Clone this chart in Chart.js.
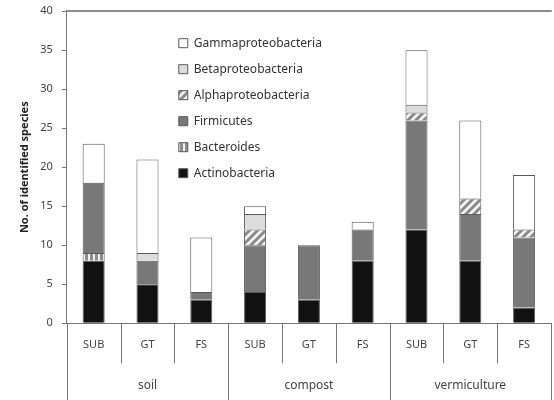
<!DOCTYPE html>
<html>
<head>
<meta charset="utf-8">
<script src="https://cdn.jsdelivr.net/npm/chart.js@4/dist/chart.umd.min.js"></script>
<style>
html,body{margin:0;padding:0;background:#fff;}
#wrap{width:554px;height:400px;position:relative;}
</style>
</head>
<body>
<div id="wrap"><canvas id="c" width="554" height="400"></canvas></div>
<script>
// ---- data ----
const subLabels = ['SUB','GT','FS','SUB','GT','FS','SUB','GT','FS'];
const groupLabels = ['soil','compost','vermiculture'];
const actinobacteria      = [8, 5, 3, 4, 3, 8, 12, 8, 2];
const bacteroides         = [1, 0, 0, 0, 0, 0, 0, 0, 0];
const firmicutes          = [9, 3, 1, 6, 7, 4, 14, 6, 9];
const alphaproteobacteria = [0, 0, 0, 2, 0, 0, 1, 2, 1];
const betaproteobacteria  = [0, 1, 0, 2, 0, 0, 1, 0, 0];
const gammaproteobacteria = [5, 12, 7, 1, 0, 1, 7, 10, 7];
const yTicks = [0, 5, 10, 15, 20, 25, 30, 35, 40];

// ---- patterns ----
function makePattern(w, h, draw) {
  const c = document.createElement('canvas');
  c.width = w; c.height = h;
  const g = c.getContext('2d');
  draw(g, w, h);
  return g.createPattern(c, 'repeat');
}
const vStripes = makePattern(5, 5, (g, w, h) => {
  g.fillStyle = '#8c8c8c'; g.fillRect(0, 0, w, h);
  g.fillStyle = '#f0f0f0'; g.fillRect(3, 0, 2, h);
});
const dStripes = makePattern(8, 8, (g, w, h) => {
  g.fillStyle = '#f4f4f4'; g.fillRect(0, 0, w, h);
  g.strokeStyle = '#8a8a8a'; g.lineWidth = 3;
  g.beginPath();
  g.moveTo(-1, h + 1); g.lineTo(w + 1, -1);
  g.moveTo(-w / 2 - 1, h / 2 + 1); g.lineTo(w / 2 + 1, -h / 2 - 1);
  g.moveTo(w / 2 - 1, h * 1.5 + 1); g.lineTo(w * 1.5 + 1, h / 2 - 1);
  g.stroke();
});

const border = '#5a5a5a';
function ds(label, data, bg) {
  // empty segments (0) are not drawn as bars
  return { label, data: data.map(v => (v === 0 ? null : v)), backgroundColor: bg,
           borderColor: border, borderWidth: 1,
           borderSkipped: 'start', categoryPercentage: 1, barPercentage: 0.41 };
}

const legendShift = {
  id: 'legendShift',
  afterLayout(chart) {
    const lg = chart.legend, a = chart.chartArea;
    if (!lg) return;
    const w = lg.width, h = lg.height;
    lg.left = a.left + 98; lg.top = a.top + 12;
    lg.right = lg.left + w; lg.bottom = lg.top + h;
  }
};

// category separator lines, positioned from the x scale
const separators = {
  id: 'separators',
  afterDraw(chart) {
    const x = chart.scales.x, a = chart.chartArea, ctx = chart.ctx;
    const per = subLabels.length / groupLabels.length;
    ctx.save();
    ctx.strokeStyle = '#777'; ctx.lineWidth = 1;
    for (let i = 0; i <= subLabels.length; i++) {
      const px = Math.round(x.getPixelForValue(i - 0.5)) + 0.5;
      const end = (i % per === 0) ? chart.height : a.bottom + 40;
      ctx.beginPath(); ctx.moveTo(px, a.bottom); ctx.lineTo(px, end); ctx.stroke();
    }
    ctx.restore();
  }
};

const txt = '#444';
const clear = 'rgba(0,0,0,0)';
new Chart(document.getElementById('c'), {
  type: 'bar',
  data: {
    labels: subLabels,
    datasets: [
      ds('Actinobacteria', actinobacteria, '#111111'),
      ds('Bacteroides', bacteroides, vStripes),
      ds('Firmicutes', firmicutes, '#787878'),
      ds('Alphaproteobacteria', alphaproteobacteria, dStripes),
      ds('Betaproteobacteria', betaproteobacteria, '#dcdcdc'),
      ds('Gammaproteobacteria', gammaproteobacteria, '#ffffff')
    ]
  },
  options: {
    responsive: false,
    animation: false,
    layout: { padding: { left: 18, right: 3, top: 0, bottom: 6 } },
    plugins: {
      tooltip: { enabled: false },
      legend: {
        position: 'chartArea',
        align: 'start',
        reverse: true,
        labels: {
          boxWidth: 9, boxHeight: 9, padding: 14,
          color: '#333',
          font: { family: 'Noto Sans', size: 12 }
        }
      }
    },
    scales: {
      x: {
        stacked: true,
        offset: true,
        grid: { offset: true, drawOnChartArea: false, tickLength: 15, color: clear, tickColor: clear },
        border: { display: true, color: '#777' },
        ticks: { padding: 0.5, color: txt, font: { family: 'Noto Sans', size: 11 }, maxRotation: 0, autoSkip: false }
      },
      x2: {
        type: 'category',
        labels: groupLabels,
        position: 'bottom',
        offset: true,
        grid: { offset: true, drawOnChartArea: false, tickLength: 24, color: clear, tickColor: clear },
        border: { display: false },
        ticks: { padding: 1.6, color: txt, font: { family: 'Noto Sans', size: 12 }, maxRotation: 0, autoSkip: false }
      },
      xTop: {
        type: 'category',
        labels: groupLabels,
        position: 'top',
        offset: true,
        grid: { display: true, drawOnChartArea: false, drawTicks: false, color: clear },
        border: { display: true, color: '#8c8c8c', width: 1.5 },
        ticks: { display: false }
      },
      y: {
        stacked: true,
        min: 0, max: 40,
        afterBuildTicks(scale) { scale.ticks = yTicks.map(v => ({ value: v })); },
        grid: {
          drawOnChartArea: true, tickLength: 5, tickColor: '#777',
          color: c => (c.index === yTicks.length - 1 ? '#8c8c8c' : clear)
        },
        border: { display: true, color: '#777' },
        ticks: { padding: 9, color: txt, font: { family: 'Noto Sans', size: 11, lineHeight: 0.4 } },
        title: {
          display: true, text: 'No. of identified species', color: '#222',
          font: { family: 'Noto Sans', size: 11, weight: 'bold' },
          padding: { top: 0, bottom: 0 }
        }
      }
    }
  },
  plugins: [legendShift, separators]
});
</script>
</body>
</html>
